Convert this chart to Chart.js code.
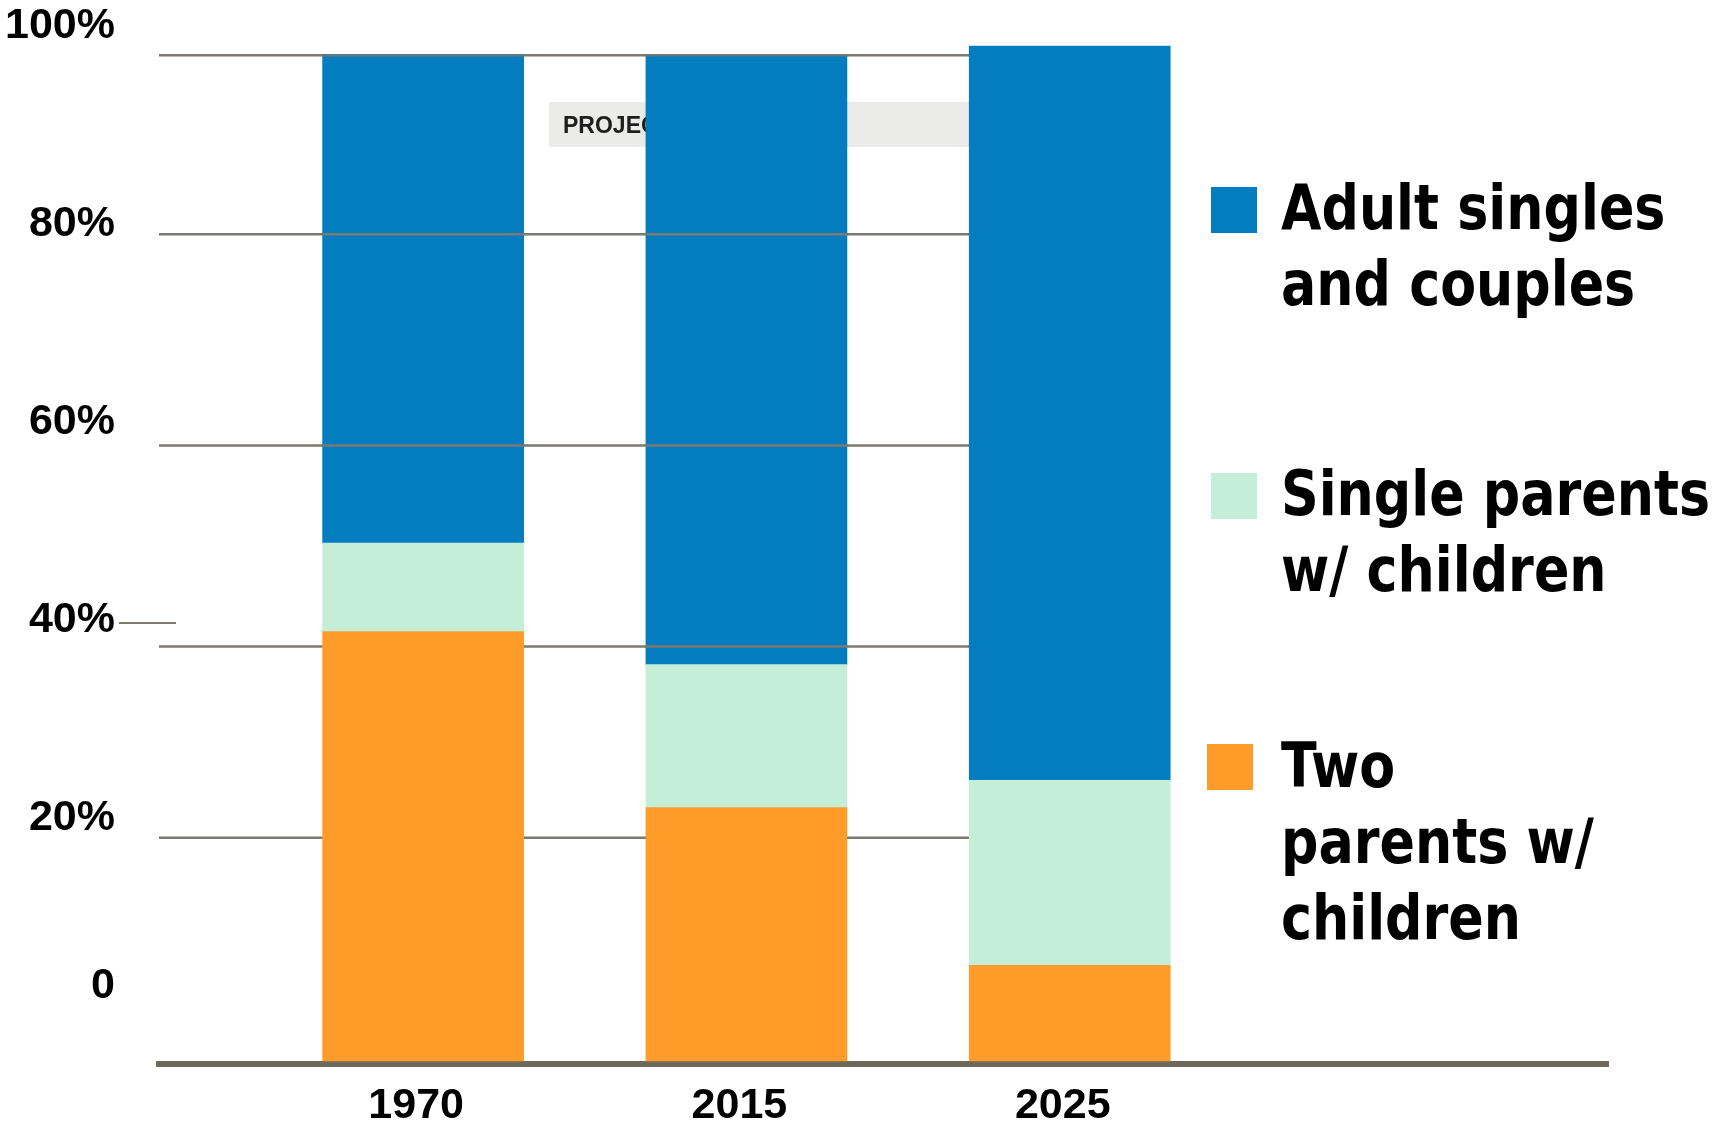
<!DOCTYPE html>
<html>
<head>
<meta charset="utf-8">
<script src="https://cdn.jsdelivr.net/npm/chart.js@4.4.0/dist/chart.umd.min.js"></script>
<style>
  body { margin: 0; background: #fff; }
  .wrap { position: relative; width: 1724px; height: 1127px; }
  .legend-item { position: absolute; left: 0; }
  .legend-item .swatch { position: absolute; width: 46px; height: 46px; top: 17px; }
  .legend-item .text {
    position: absolute; left: 1281px; top: 0;
    font: bold 63px "DejaVu Sans", sans-serif; line-height: 76px;
    color: #000; white-space: nowrap;
    transform: scaleX(0.83); transform-origin: left top;
  }
  .legend-item:nth-child(1) { top: 170px; }
  .legend-item:nth-child(2) { top: 456px; }
  .legend-item:nth-child(3) { top: 728px; }
  .legend-item:nth-child(1) .swatch,
  .legend-item:nth-child(2) .swatch { left: 1211px; }
  .legend-item:nth-child(3) .swatch { left: 1207px; top: 16px; }
</style>
</head>
<body>
<div class="wrap">
  <canvas id="households"></canvas>
  <div id="legend"></div>
</div>
<script>
// household make-up, share of all households (%)
const years = ['1970', '2015', '2025'];
const twoParents = [42.7, 25.2, 9.5];
const singleParents = [8.8, 14.2, 18.4];
const adults = [48.5, 60.5, 73.0];

const seriesLines = [
  ['Adult singles', 'and couples'],
  ['Single parents', 'w/ children'],
  ['Two', 'parents w/', 'children']
];
const seriesColors = ['#037dc0', '#c5eed9', '#fe9b29'];

const tickValues = [0, 20, 40, 60, 80, 100];
const tickLabels = ['0', '20%', '40%', '60%', '80%', '100%'];
// rules behind the bars, on the bar scale
const gridValues = [100, 82.2, 61.2, 41.2, 22.2];

const labelFont = { family: '"Liberation Sans", Arial, sans-serif', size: 43, weight: 'bold' };

function drawGrid(ctx, chart, xEnd) {
  const y = chart.scales.y;
  ctx.strokeStyle = '#7d7870';
  ctx.lineWidth = 2.5;
  gridValues.forEach(v => {
    const py = y.getPixelForValue(v);
    ctx.beginPath();
    ctx.moveTo(chart.chartArea.left, py);
    ctx.lineTo(xEnd, py);
    ctx.stroke();
  });
}

function gridEnd(chart) {
  const bar = chart.getDatasetMeta(2).data[2];
  return bar.x - bar.width / 2;
}

const decor = {
  id: 'decor',
  beforeDatasetsDraw(chart) {
    const { ctx, chartArea, scales } = chart;
    const xEnd = gridEnd(chart);
    ctx.save();
    // grey "projected" tag, mostly hidden by the 2015 bar
    ctx.fillStyle = '#ebebea';
    ctx.fillRect(549, 102, xEnd - 549, 45);
    ctx.fillStyle = '#1e1e1e';
    ctx.font = 'bold 23px "Liberation Sans", Arial, sans-serif';
    ctx.textBaseline = 'alphabetic';
    ctx.fillText('PROJECTED', 563, 133);

    drawGrid(ctx, chart, xEnd);

    // short tick beside the 40% label
    const y40 = scales.yLabels.getPixelForValue(40) + 3;
    ctx.strokeStyle = '#7d7870';
    ctx.lineWidth = 2;
    ctx.beginPath();
    ctx.moveTo(chartArea.left - 40, y40);
    ctx.lineTo(chartArea.left + 17, y40);
    ctx.stroke();
    ctx.restore();
  },
  afterDatasetsDraw(chart) {
    // the rules stay visible across the blue segments
    const { ctx } = chart;
    const xEnd = gridEnd(chart);
    chart.getDatasetMeta(2).data.forEach(bar => {
      const { x, y, base, width } = bar.getProps(['x', 'y', 'base', 'width'], true);
      ctx.save();
      ctx.beginPath();
      ctx.rect(x - width / 2, y, width, base - y);
      ctx.clip();
      drawGrid(ctx, chart, xEnd);
      ctx.restore();
    });
  }
};

const toPoints = arr => arr.map((v, i) => ({ x: i, y: v }));

new Chart(document.getElementById('households'), {
  type: 'bar',
  data: {
    datasets: [
      { label: seriesLines[2].join(' '), data: toPoints(twoParents), backgroundColor: seriesColors[2] },
      { label: seriesLines[1].join(' '), data: toPoints(singleParents), backgroundColor: seriesColors[1] },
      { label: seriesLines[0].join(' '), data: toPoints(adults), backgroundColor: seriesColors[0] }
    ]
  },
  options: {
    responsive: true,
    maintainAspectRatio: false,
    animation: false,
    barThickness: 201,
    layout: { padding: { top: 30, right: 116, left: 0, bottom: 0 } },
    plugins: { legend: { display: false }, tooltip: { enabled: false } },
    scales: {
      x: {
        type: 'linear',
        stacked: true,
        offset: false,
        min: -0.817,
        max: 3.665,
        grid: { display: false, drawTicks: false },
        border: { display: true, color: '#6e685d', width: 6 },
        afterBuildTicks: s => { s.ticks = years.map((_, i) => ({ value: i })); },
        afterFit: s => { s.height = 63; },
        ticks: {
          color: '#000',
          font: labelFont,
          padding: 16,
          labelOffset: -7,
          maxRotation: 0,
          callback: v => years[v]
        }
      },
      y: {
        stacked: true,
        display: false,
        min: -0.3,
        max: 102.5
      },
      yLabels: {
        type: 'linear',
        position: 'left',
        min: -4.84,
        max: 99.6,
        // invisible tick marks keep the labels clear of the plot
        grid: { display: true, drawOnChartArea: false, drawTicks: true, tickLength: 44, tickColor: 'rgba(0,0,0,0)' },
        border: { display: false },
        // the "0" label sits a little above where the others would put it
        afterBuildTicks: s => { s.ticks = tickValues.map(v => ({ value: v === 0 ? 3 : v })); },
        afterFit: s => { s.width = 159; },
        ticks: {
          color: '#000',
          font: labelFont,
          padding: 0,
          callback: (v, i) => tickLabels[i]
        }
      }
    }
  },
  plugins: [decor]
});

// legend, top to bottom: adults, single parents, two parents
const legend = document.getElementById('legend');
seriesLines.forEach((lines, i) => {
  const item = document.createElement('div');
  item.className = 'legend-item';
  const sw = document.createElement('span');
  sw.className = 'swatch';
  sw.style.background = seriesColors[i];
  const txt = document.createElement('div');
  txt.className = 'text';
  txt.innerHTML = lines.join('<br>');
  item.appendChild(sw);
  item.appendChild(txt);
  legend.appendChild(item);
});
</script>
</body>
</html>
